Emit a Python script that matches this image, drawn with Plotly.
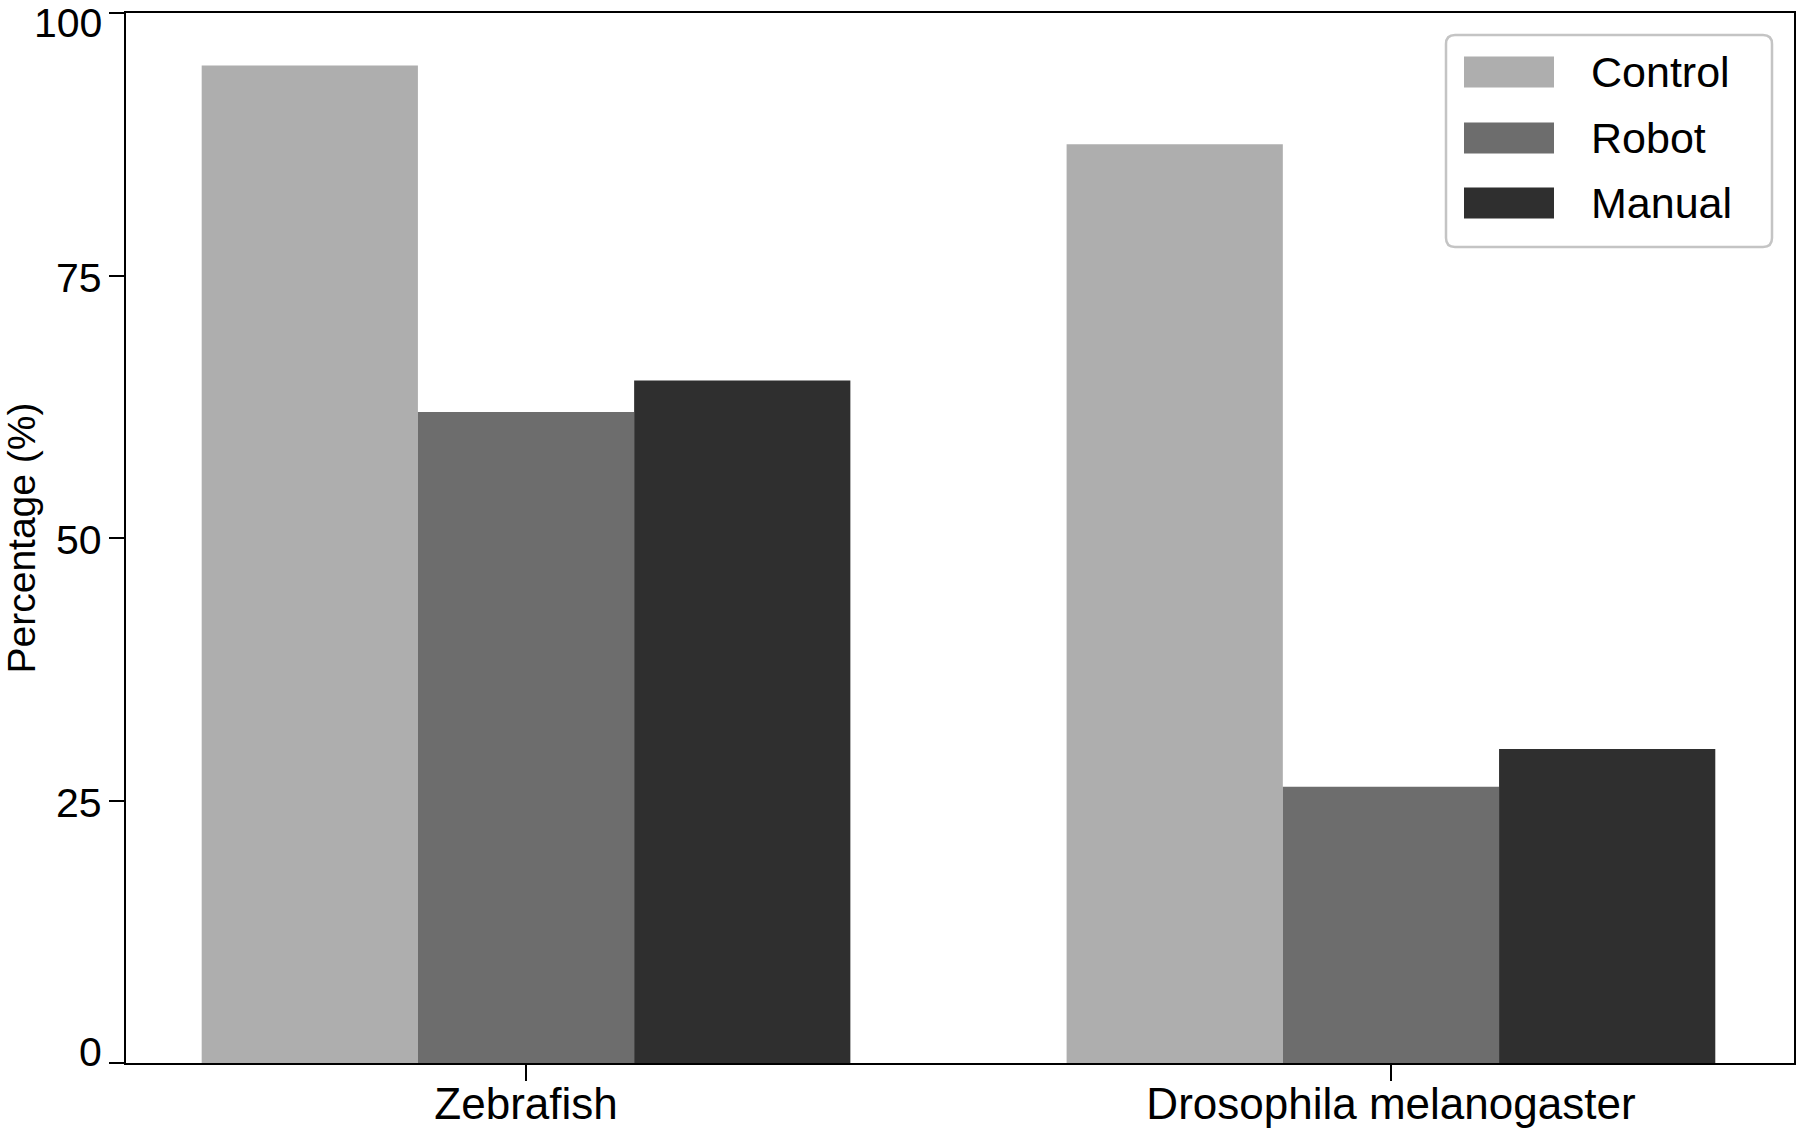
import plotly.graph_objects as go

# data
categories = ["Zebrafish", "Drosophila melanogaster"]
series = ["Control", "Robot", "Manual"]
control = [95, 87.5]
robot = [62, 26.3]
manual = [65, 29.9]
y_ticks = [0, 25, 50, 75, 100]

colors = ["#aeaeae", "#6d6d6d", "#2f2f2f"]
values = [control, robot, manual]

W, H = 1800, 1134
L, R, T, B = 126, 6, 13, 71
font = "Liberation Sans, Arial, sans-serif"

fig = go.Figure()
for name, vals, col in zip(series, values, colors):
    fig.add_trace(go.Bar(
        x=categories, y=vals, name=name,
        marker=dict(color=col, line=dict(width=0)),
        showlegend=False,
    ))

# pixel -> paper helpers for the hand-drawn legend
pw, ph = W - L - R, H - T - B
def px(x):
    return (x - L) / pw
def py(y):
    return (H - B - y) / ph

shapes = []
annotations = []
# legend frame with rounded corners
bx0, bx1, by0, by1, rr = 1446, 1772, 35, 247, 9
path = (f"M {px(bx0 + rr)},{py(by0)} L {px(bx1 - rr)},{py(by0)} "
        f"Q {px(bx1)},{py(by0)} {px(bx1)},{py(by0 + rr)} "
        f"L {px(bx1)},{py(by1 - rr)} Q {px(bx1)},{py(by1)} {px(bx1 - rr)},{py(by1)} "
        f"L {px(bx0 + rr)},{py(by1)} Q {px(bx0)},{py(by1)} {px(bx0)},{py(by1 - rr)} "
        f"L {px(bx0)},{py(by0 + rr)} Q {px(bx0)},{py(by0)} {px(bx0 + rr)},{py(by0)} Z")
shapes.append(dict(type="path", xref="paper", yref="paper", path=path,
                   line=dict(color="#c4c4c4", width=2.5), fillcolor="white"))
row_y = [72, 138, 203]
for name, col, cy in zip(series, colors, row_y):
    shapes.append(dict(type="rect", xref="paper", yref="paper",
                       x0=px(1464), x1=px(1554), y0=py(cy + 15.5), y1=py(cy - 15.5),
                       fillcolor=col, line=dict(width=0)))
    annotations.append(dict(x=px(1589), y=py(cy), xref="paper", yref="paper",
                            text=name, showarrow=False, xanchor="left", yanchor="middle",
                            font=dict(size=43, color="black", family=font)))

# y tick labels as text, with the end labels nudged inside the frame like the original
for v in y_ticks:
    shift = -2
    if v == max(y_ticks):
        shift = -10
    elif v == min(y_ticks):
        shift = 11
    annotations.append(dict(x=0, y=v, xref="paper", yref="y", text=str(v),
                            showarrow=False, xanchor="right", yanchor="middle",
                            xshift=-22, yshift=shift,
                            font=dict(size=41, color="black", family=font)))

fig.update_layout(
    width=W, height=H,
    margin=dict(l=L, r=R, t=T, b=B, autoexpand=False),
    paper_bgcolor="white", plot_bgcolor="white",
    barmode="group", bargap=0.25, bargroupgap=0,
    font=dict(family=font, color="black"),
    shapes=shapes, annotations=annotations,
)
fig.update_xaxes(
    range=[-0.4625, 1.466], automargin=False,
    showline=True, linecolor="black", linewidth=2, mirror=True,
    ticks="outside", ticklen=16, tickwidth=2, tickcolor="black",
    tickfont=dict(size=44), ticklabelstandoff=-15,
    showgrid=False, zeroline=False,
)
fig.update_yaxes(
    range=[0, 100], tickvals=y_ticks, automargin=False, showticklabels=False,
    showline=True, linecolor="black", linewidth=2, mirror=True,
    ticks="outside", ticklen=15, tickwidth=2, tickcolor="black",
    showgrid=False, zeroline=False,
    title=dict(text="Percentage (%)", font=dict(size=39), standoff=77),
)

# drop the page's default body margin so the figure sits at the window corner
fig.write_html("out.html", config={"displayModeBar": False},
               post_script="document.body.style.margin='0px';")
